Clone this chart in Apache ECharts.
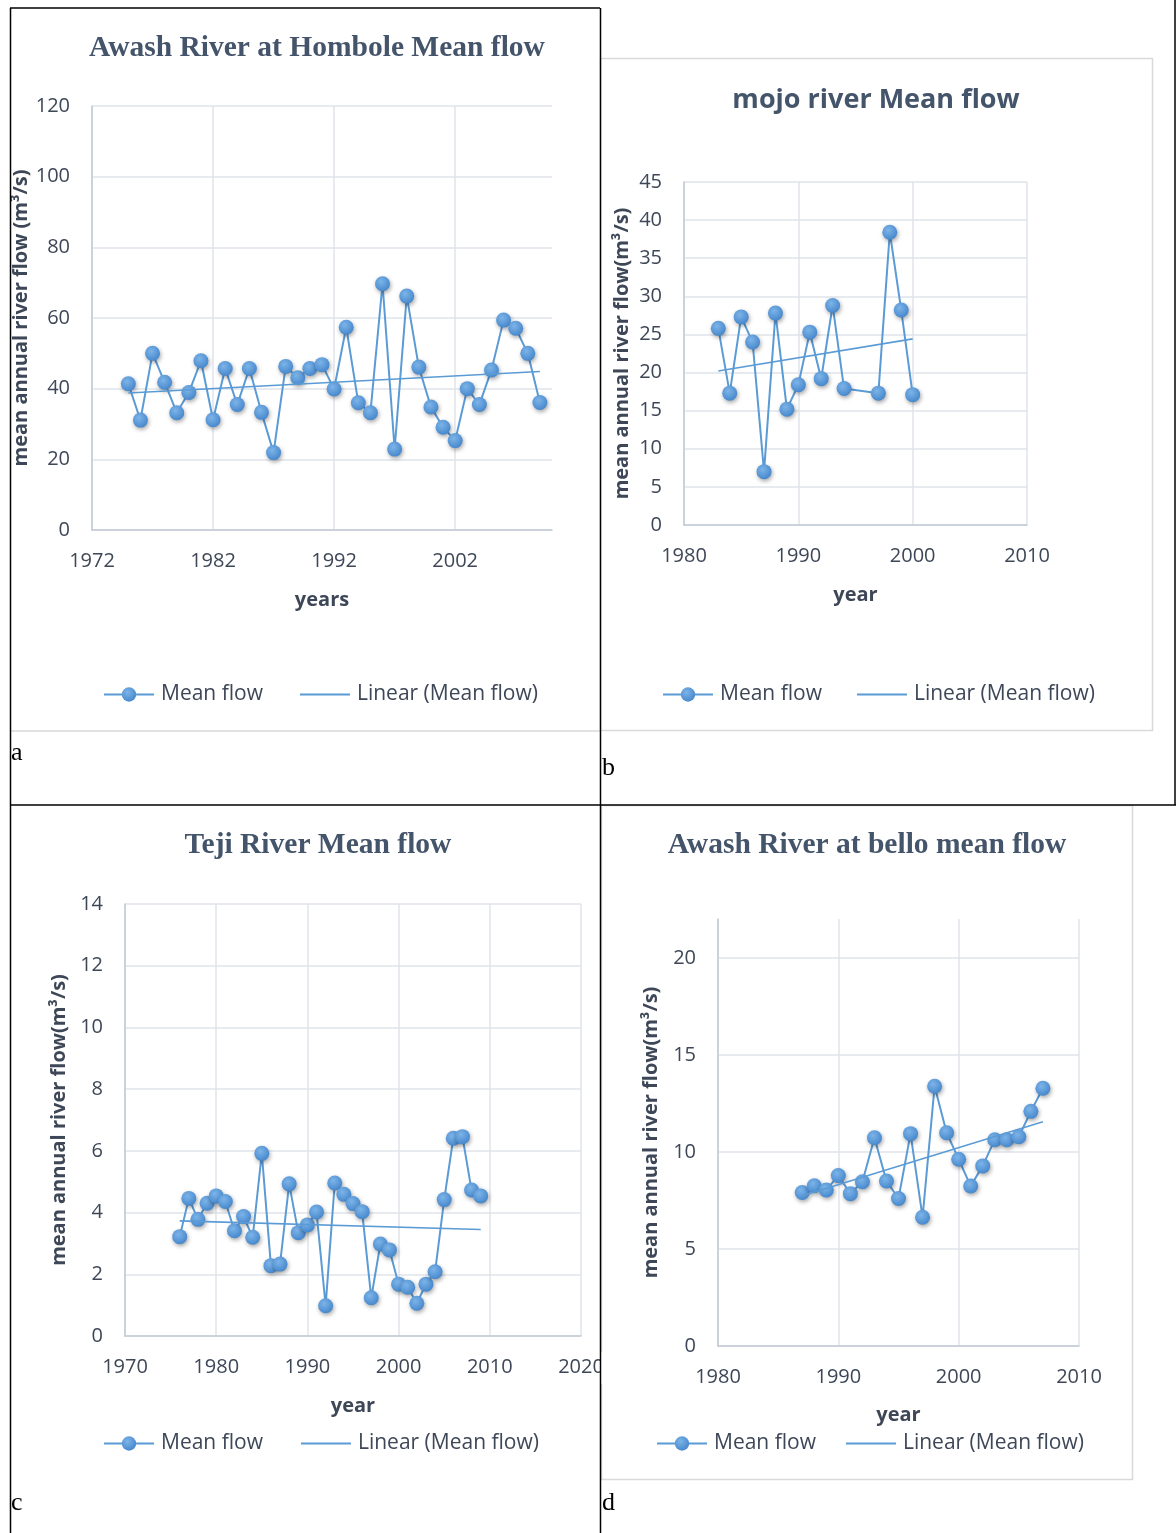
<!DOCTYPE html>
<html><head><meta charset="utf-8">
<script src="https://cdn.jsdelivr.net/npm/echarts@6/dist/echarts.min.js"></script>
<style>html,body{margin:0;padding:0;background:#fff}#c{width:1176px;height:1533px}</style>
</head><body><div id="c"></div>
<script>
// ---- data ----
const yearsA = [1975,1976,1977,1978,1979,1980,1981,1982,1983,1984,1985,1986,1987,1988,1989,1990,1991,1992,1993,1994,1995,1996,1997,1998,1999,2000,2001,2002,2003,2004,2005,2006,2007,2008,2009];
const flowA  = [41.4,31.1,50.0,41.8,33.2,38.9,47.9,31.2,45.7,35.5,45.7,33.3,21.9,46.3,43.1,45.7,46.8,39.9,57.4,36.0,33.2,69.7,22.9,66.2,46.1,34.8,29.1,25.3,40.0,35.5,45.3,59.4,57.1,50.0,36.1];

const yearsB = [1983,1984,1985,1986,1987,1988,1989,1990,1991,1992,1993,1994,1997,1998,1999,2000];
const flowB  = [25.8,17.3,27.3,24.0,7.0,27.8,15.2,18.4,25.3,19.2,28.8,17.9,17.3,38.4,28.2,17.1];

const yearsC = [1976,1977,1978,1979,1980,1981,1982,1983,1984,1985,1986,1987,1988,1989,1990,1991,1992,1993,1994,1995,1996,1997,1998,1999,2000,2001,2002,2003,2004,2005,2006,2007,2008,2009];
const flowC  = [3.22,4.46,3.78,4.30,4.54,4.36,3.41,3.87,3.20,5.92,2.28,2.33,4.93,3.35,3.60,4.02,0.98,4.96,4.59,4.29,4.03,1.24,2.98,2.79,1.68,1.58,1.06,1.68,2.08,4.42,6.41,6.46,4.73,4.54];

const yearsD = [1987,1988,1989,1990,1991,1992,1993,1994,1995,1996,1997,1998,1999,2000,2001,2002,2003,2004,2005,2006,2007];
const flowD  = [7.91,8.26,8.04,8.78,7.85,8.46,10.73,8.50,7.60,10.94,6.63,13.38,10.99,9.62,8.24,9.28,10.63,10.63,10.78,12.09,13.28];

const titles = ['Awash River at Hombole Mean flow','mojo river Mean flow','Teji River Mean flow','Awash River at bello mean flow'];
const seriesName = 'Mean flow';
const trendName = 'Linear (Mean flow)';

// ---- helpers ----
function pairs(xs, ys){ return xs.map((x,i)=>[x, ys[i]]); }
function trend(xs, ys){
  const n = xs.length;
  const mx = xs.reduce((a,b)=>a+b,0)/n, my = ys.reduce((a,b)=>a+b,0)/n;
  let sxy=0, sxx=0;
  for(let i=0;i<n;i++){ sxy+=(xs[i]-mx)*(ys[i]-my); sxx+=(xs[i]-mx)*(xs[i]-mx); }
  const b = sxy/sxx, a = my - b*mx;
  const x0 = xs[0], x1 = xs[n-1];
  return [[x0, a+b*x0],[x1, a+b*x1]];
}
const SANS = '"Open Sans", "Noto Sans", sans-serif';
const SERIF = '"Liberation Serif", "DejaVu Serif", serif';
const TXT = '#3d4757';
const GRID = '#dfe3ea';
const AXL = '#c3cad6';
const LINE = '#5b9bd5';
const markerColor = new echarts.graphic.RadialGradient(0.4, 0.35, 0.75, [
  {offset:0, color:'#7db4e8'}, {offset:1, color:'#3f82c9'}]);
const plain = v => String(v);

function xAx(gi, min, max, name, gap, hideMax){
  return {
    type:'value', gridIndex:gi, min, max, interval:10,
    name, nameLocation:'middle', nameGap:gap,
    nameTextStyle:{fontFamily:SANS, fontSize:20, fontWeight:'bold', color:TXT},
    axisLine:{show:true, lineStyle:{color:AXL, width:1.5}},
    axisTick:{show:false},
    axisLabel:{fontFamily:SANS, fontSize:20, color:TXT, margin:21, formatter:plain, showMaxLabel:!hideMax},
    splitLine:{show:true, showMaxLine:!hideMax, lineStyle:{color:GRID, width:1.5}}
  };
}
function yAx(gi, max, interval, name, gap, hideMax){
  return {
    type:'value', gridIndex:gi, min:0, max, interval,
    name, nameLocation:'middle', nameGap:gap,
    nameTextStyle:{fontFamily:SANS, fontSize:20, fontWeight:'bold', color:TXT},
    axisLine:{show:true, lineStyle:{color:AXL, width:1.5}},
    axisTick:{show:false},
    axisLabel:{fontFamily:SANS, fontSize:20, color:TXT, margin:22, formatter:plain, showMaxLabel:!hideMax},
    splitLine:{show:true, showMaxLine:!hideMax, lineStyle:{color:GRID, width:1.5}}
  };
}
function dataSeries(i, xs, ys){
  return {
    name:seriesName, type:'line', xAxisIndex:i, yAxisIndex:i,
    data:pairs(xs, ys), symbol:'circle', symbolSize:15,
    lineStyle:{color:LINE, width:2},
    itemStyle:{color:markerColor, shadowColor:'rgba(0,0,0,0.35)', shadowBlur:4, shadowOffsetX:1, shadowOffsetY:2},
    z:3
  };
}
function trendSeries(i, xs, ys){
  return {
    name:trendName, type:'line', xAxisIndex:i, yAxisIndex:i,
    data:trend(xs, ys), symbol:'none', showSymbol:false,
    lineStyle:{color:LINE, width:1.6}, itemStyle:{color:LINE}, z:4
  };
}
function legend(left, top, gap){
  return {
    left, top, padding:0, itemWidth:50, itemHeight:18, itemGap:gap,
    data:[seriesName, {name:trendName, itemStyle:{opacity:0}}],
    textStyle:{fontFamily:SANS, fontSize:21, color:TXT, padding:[0,0,0,2]},
    selectedMode:false
  };
}
function hline(x1,y,x2,color,w){ return {type:'line', shape:{x1,y1:y,x2,y2:y}, style:{stroke:color, lineWidth:w}, z:100}; }
function vline(x,y1,y2,color,w){ return {type:'line', shape:{x1:x,y1,x2:x,y2}, style:{stroke:color, lineWidth:w}, z:100}; }
function ttl(text, x, y, font){ return {type:'text', x, y, style:{text, font, fill:'#44546a', align:'center', verticalAlign:'middle'}, z:50}; }
function letter(t, x, y){ return {type:'text', x, y, style:{text:t, font:'26px '+SERIF, fill:'#000', align:'left', verticalAlign:'middle'}, z:50}; }

const chart = echarts.init(document.getElementById('c'), null, {renderer:'canvas'});
chart.setOption({
  animation:false,
  backgroundColor:'#fff',
  grid:[
    {left:92, top:106, width:460, height:424},
    {left:684, top:182, width:343, height:343},
    {left:125, top:904, width:456, height:432},
    {left:718, top:919, width:361, height:427}
  ],
  xAxis:[
    xAx(0,1972,2010,'years',60,true),
    xAx(1,1980,2010,'year',60),
    xAx(2,1970,2020,'year',60),
    xAx(3,1980,2010,'year',59)
  ],
  yAxis:[
    yAx(0,120,20,'mean annual river flow (m³/s)',51),
    yAx(1,45,5,'mean annual river flow(m³/s)',52),
    yAx(2,14,2,'mean annual river flow(m³/s)',56),
    yAx(3,22,5,'mean annual river flow(m³/s)',57,true)
  ],
  legend:[ legend(103,684,36), legend(662,684,34), legend(103,1433,37), legend(656,1433,29) ],
  series:[
    dataSeries(0,yearsA,flowA), trendSeries(0,yearsA,flowA),
    dataSeries(1,yearsB,flowB), trendSeries(1,yearsB,flowB),
    dataSeries(2,yearsC,flowC), trendSeries(2,yearsC,flowC),
    dataSeries(3,yearsD,flowD), trendSeries(3,yearsD,flowD)
  ],
  graphic:[
    hline(10,731,600,'#d9d9d9',1.5),
    {type:'rect', shape:{x:600.5,y:58.5,width:552,height:672}, style:{fill:null, stroke:'#d9d9d9', lineWidth:1.5}, z:90},
    {type:'rect', shape:{x:601.5,y:805.5,width:531,height:674}, style:{fill:null, stroke:'#d9d9d9', lineWidth:1.5}, z:90},
    {type:'rect', shape:{x:600,y:1352,width:14,height:32}, style:{fill:'#fff'}, z:95},
    ttl(titles[0], 317, 48, 'bold 29.5px '+SERIF),
    ttl(titles[1], 876, 100, 'bold 27px '+SANS),
    ttl(titles[2], 318, 845, 'bold 29.5px '+SERIF),
    ttl(titles[3], 867, 845, 'bold 29.5px '+SERIF),
    letter('a', 11, 753), letter('b', 602, 768), letter('c', 11, 1503), letter('d', 602, 1503),
    hline(10,8,600,'#000',1.5),
    vline(10.5,8,1533,'#000',1.5),
    vline(600.5,8,1533,'#000',1.5),
    hline(10,805,1176,'#000',1.5),
    vline(1175,0,805,'#000',1.5)
  ]
});
</script>
</body></html>
